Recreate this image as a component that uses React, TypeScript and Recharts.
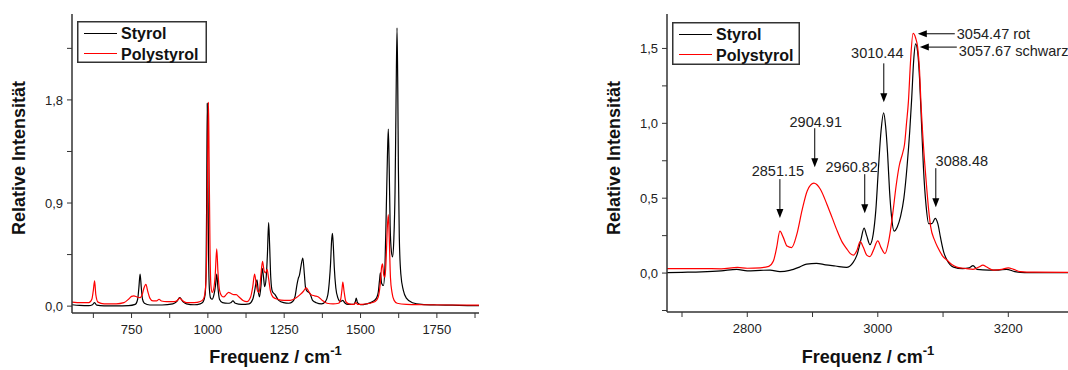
import React from "react";
import { LineChart, Line, XAxis, YAxis, Legend, ReferenceDot } from "recharts";

const FONT = "'Liberation Sans', Arial, sans-serif";
const FRAME = "#333";

// Fingerprint region, [Frequenz cm-1, relative Intensität]
const styrolFingerprint: [number, number][] = [
	[555, 0.012], [580, 0.006], [610, 0.004], [622, 0.012], [629, 0.03], [636, 0.008], [660, 0.003],
	[700, 0.002], [740, 0.004], [762, 0.015], [770, 0.06], [774, 0.16], [778, 0.28], [782, 0.16],
	[786, 0.06], [792, 0.025], [810, 0.01], [850, 0.01], [885, 0.02], [898, 0.04], [908, 0.075],
	[918, 0.04], [930, 0.02], [955, 0.012], [975, 0.02], [985, 0.04], [991, 0.1], [994, 0.3],
	[996, 0.9], [998, 1.77], [1000, 1.2], [1002, 0.5], [1005, 0.15], [1009, 0.07], [1014, 0.06],
	[1020, 0.1], [1025, 0.18], [1029, 0.28], [1033, 0.16], [1038, 0.06], [1048, 0.03], [1065, 0.025],
	[1075, 0.03], [1082, 0.045], [1090, 0.025], [1110, 0.015], [1135, 0.02], [1147, 0.06], [1153, 0.13],
	[1158, 0.21], [1161, 0.23], [1165, 0.13], [1169, 0.08], [1174, 0.18], [1178, 0.33], [1182, 0.26],
	[1186, 0.17], [1191, 0.25], [1195, 0.45], [1199, 0.73], [1202, 0.55], [1206, 0.25], [1211, 0.13],
	[1220, 0.1], [1232, 0.05], [1248, 0.03], [1265, 0.025], [1278, 0.04], [1286, 0.09], [1292, 0.19],
	[1296, 0.24], [1300, 0.27], [1305, 0.35], [1311, 0.42], [1316, 0.28], [1320, 0.16], [1325, 0.13],
	[1331, 0.12], [1336, 0.1], [1343, 0.05], [1355, 0.03], [1372, 0.02], [1385, 0.04], [1393, 0.1],
	[1398, 0.22], [1402, 0.38], [1405, 0.56], [1408, 0.635], [1411, 0.52], [1414, 0.34], [1419, 0.16],
	[1426, 0.07], [1434, 0.04], [1442, 0.05], [1448, 0.03], [1460, 0.015], [1478, 0.015], [1483, 0.04],
	[1486, 0.07], [1490, 0.03], [1500, 0.012], [1520, 0.02], [1540, 0.04], [1552, 0.07], [1558, 0.12],
	[1562, 0.22], [1565, 0.29], [1569, 0.2], [1575, 0.18], [1580, 0.35], [1584, 0.8], [1588, 1.3],
	[1591, 1.545], [1594, 1.2], [1597, 0.7], [1601, 0.48], [1605, 0.43], [1609, 0.58], [1613, 1.0],
	[1616, 1.7], [1619.5, 2.43], [1622, 1.9], [1624, 1.2], [1627, 0.6], [1632, 0.28], [1640, 0.14],
	[1650, 0.07], [1670, 0.03], [1700, 0.015], [1750, 0.01], [1800, 0.008], [1850, 0.005], [1888, 0.004],
];

const polystyrolFingerprint: [number, number][] = [
	[555, 0.035], [585, 0.03], [610, 0.03], [620, 0.06], [625, 0.14], [629, 0.22], [633, 0.1],
	[640, 0.035], [660, 0.02], [700, 0.02], [725, 0.03], [740, 0.06], [750, 0.085], [758, 0.09],
	[768, 0.08], [778, 0.075], [786, 0.11], [791, 0.16], [797, 0.19], [803, 0.13], [810, 0.07],
	[820, 0.045], [832, 0.045], [840, 0.06], [848, 0.045], [865, 0.04], [890, 0.04], [900, 0.05],
	[908, 0.07], [916, 0.05], [930, 0.03], [955, 0.03], [975, 0.04], [985, 0.06], [992, 0.15],
	[996, 0.45], [999, 1.2], [1002, 1.78], [1004, 1.3], [1007, 0.5], [1010, 0.18], [1014, 0.12],
	[1019, 0.15], [1024, 0.27], [1029, 0.5], [1033, 0.3], [1038, 0.14], [1045, 0.09], [1052, 0.08],
	[1060, 0.1], [1068, 0.12], [1076, 0.11], [1085, 0.1], [1093, 0.1], [1102, 0.08], [1115, 0.05],
	[1128, 0.04], [1140, 0.08], [1147, 0.17], [1153, 0.28], [1158, 0.2], [1163, 0.13], [1168, 0.12],
	[1173, 0.25], [1179, 0.39], [1184, 0.31], [1189, 0.29], [1194, 0.32], [1199, 0.24], [1205, 0.13],
	[1213, 0.08], [1228, 0.06], [1250, 0.05], [1270, 0.05], [1288, 0.07], [1302, 0.1], [1313, 0.13],
	[1322, 0.16], [1330, 0.13], [1338, 0.1], [1350, 0.09], [1362, 0.08], [1375, 0.05], [1390, 0.025],
	[1410, 0.02], [1428, 0.025], [1435, 0.06], [1439, 0.14], [1442, 0.21], [1446, 0.13], [1452, 0.04],
	[1462, 0.02], [1478, 0.015], [1485, 0.03], [1490, 0.015], [1505, 0.015], [1530, 0.025], [1548, 0.04],
	[1558, 0.08], [1564, 0.18], [1569, 0.34], [1572, 0.37], [1576, 0.27], [1580, 0.25], [1584, 0.42],
	[1588, 0.7], [1591, 0.8], [1594, 0.6], [1598, 0.25], [1603, 0.12], [1610, 0.05], [1620, 0.025],
	[1650, 0.015], [1700, 0.012], [1800, 0.01], [1888, 0.008],
];

// C-H stretching region
const styrolCH: [number, number][] = [
	[2677, 0.003], [2700, 0.005], [2730, 0.008], [2760, 0.015], [2784, 0.025], [2800, 0.015],
	[2820, 0.018], [2835, 0.02], [2850, 0.01], [2865, 0.018], [2880, 0.04], [2891, 0.06], [2906, 0.065],
	[2920, 0.055], [2935, 0.047], [2952, 0.038], [2962, 0.07], [2968, 0.12], [2974, 0.22], [2979, 0.3],
	[2983, 0.25], [2988, 0.19], [2993, 0.26], [2997, 0.42], [3001, 0.7], [3005, 0.95], [3009, 1.07],
	[3012, 0.98], [3015, 0.8], [3018, 0.55], [3021, 0.38], [3025, 0.28], [3030, 0.31], [3035, 0.38],
	[3040, 0.5], [3045, 0.72], [3049, 0.95], [3052, 1.17], [3055, 1.42], [3058, 1.53], [3061, 1.48],
	[3064, 1.3], [3067, 1.0], [3070, 0.7], [3074, 0.45], [3078, 0.33], [3083, 0.33], [3088, 0.365],
	[3092, 0.33], [3096, 0.24], [3101, 0.14], [3106, 0.087], [3116, 0.04], [3130, 0.03], [3140, 0.035],
	[3146, 0.05], [3152, 0.025], [3170, 0.02], [3185, 0.02], [3197, 0.025], [3210, 0.01], [3225, 0.003],
	[3260, 0.002], [3293, 0.002],
];

const polystyrolCH: [number, number][] = [
	[2677, 0.03], [2700, 0.03], [2730, 0.03], [2760, 0.028], [2785, 0.038], [2800, 0.032], [2820, 0.035],
	[2833, 0.045], [2840, 0.08], [2845, 0.17], [2850, 0.28], [2855, 0.24], [2861, 0.18], [2868, 0.17],
	[2876, 0.26], [2884, 0.42], [2892, 0.55], [2902, 0.6], [2912, 0.56], [2922, 0.46], [2930, 0.37],
	[2937, 0.29], [2945, 0.21], [2952, 0.165], [2958, 0.13], [2963, 0.12], [2968, 0.15], [2973, 0.21],
	[2978, 0.17], [2983, 0.12], [2988, 0.11], [2993, 0.15], [3000, 0.215], [3005, 0.17], [3011, 0.13],
	[3017, 0.22], [3023, 0.4], [3028, 0.58], [3033, 0.72], [3038, 0.8], [3041, 0.86], [3044, 1.0],
	[3047, 1.15], [3050, 1.4], [3054, 1.6], [3058, 1.57], [3061, 1.51], [3064, 1.35], [3066, 1.15],
	[3070, 0.85], [3074, 0.62], [3078, 0.42], [3081, 0.31], [3087, 0.22], [3092, 0.17], [3100, 0.11],
	[3106, 0.087], [3114, 0.055], [3121, 0.04], [3136, 0.03], [3146, 0.025], [3155, 0.04], [3161, 0.053],
	[3167, 0.04], [3177, 0.02], [3190, 0.025], [3200, 0.035], [3208, 0.025], [3218, 0.01], [3240, 0.006],
	[3293, 0.005],
];

const seriesNames = ["Styrol", "Polystyrol"];

const fingerprintXTicks = [625, 750, 875, 1000, 1125, 1250, 1375, 1500, 1625, 1750, 1875];
const fingerprintXLabels = [750, 1000, 1250, 1500, 1750];
const fingerprintYTicks = [0, 0.45, 0.9, 1.35, 1.8, 2.25];
const fingerprintYLabels = [0, 0.9, 1.8];

const chXTicks = [2700, 2800, 2900, 3000, 3100, 3200];
const chXLabels = [2800, 3000, 3200];
const chYTicks = [-0.25, 0, 0.25, 0.5, 0.75, 1, 1.25, 1.5];
const chYLabels = [0, 0.5, 1, 1.5];

// peak labels: tip at (f, i); tx/ty = text offset from tip in px
const peakNotes = [
	{ text: "2851.15", f: 2850, i: 0.367, dir: "down", tx: -2, ty: -42 },
	{ text: "2904.91", f: 2903.4, i: 0.707, dir: "down", tx: 1, ty: -40 },
	{ text: "2960.82", f: 2980, i: 0.4, dir: "down", tx: -13, ty: -41 },
	{ text: "3010.44", f: 3009.2, i: 1.14, dir: "down", tx: -6.5, ty: -44 },
	{ text: "3088.48", f: 3088.9, i: 0.44, dir: "down", tx: 26, ty: -41 },
	{ text: "3054.47 rot", f: 3061.3, i: 1.598, dir: "left", tx: 39, ty: 5 },
	{ text: "3057.67 schwarz", f: 3064.4, i: 1.509, dir: "left", tx: 39, ty: 8.5 },
];

const toPoints = (arr: [number, number][]) => arr.map(([f, i]) => ({ f, i }));

const commaFmt = (labels: number[]) => (v: number) =>
	labels.includes(v) ? v.toFixed(1).replace(".", ",") : "";
const plainFmt = (labels: number[]) => (v: number) => (labels.includes(v) ? String(v) : "");

const tickStyle = { fontSize: 13, fill: "#222", fontFamily: FONT };

function YTitle({ px }: { px: number }) {
	return (
		<text
			x={px}
			y={158}
			transform={`rotate(-90 ${px} 158)`}
			textAnchor="middle"
			fontSize={18}
			fontWeight="bold"
			fontFamily={FONT}
			fill="#111"
		>
			Relative Intensität
		</text>
	);
}

function XTitle({ viewBox }: any) {
	const cx = viewBox ? viewBox.x + viewBox.width / 2 : 0;
	return (
		<text x={cx} y={363} textAnchor="middle" fontSize={18} fontWeight="bold" fontFamily={FONT} fill="#111">
			Frequenz / cm
			<tspan fontSize={13} dy={-8}>
				-1
			</tspan>
		</text>
	);
}

function LegendBox({ payload, w, h }: any) {
	const items = [...(payload || [])].sort(
		(a: any, b: any) => seriesNames.indexOf(a.value) - seriesNames.indexOf(b.value)
	);
	return (
		<svg width={w} height={h} style={{ display: "block" }}>
			<rect x={0.75} y={0.75} width={w - 1.5} height={h - 1.5} fill="#fff" stroke={FRAME} strokeWidth={1.5} />
			{items.map((p: any, k: number) => (
				<g key={p.value}>
					<line x1={7} x2={40} y1={12.5 + k * 20} y2={12.5 + k * 20} stroke={p.color} strokeWidth={1.2} />
					<text x={44} y={17.5 + k * 21.5} fontSize={16} fontWeight="bold" fontFamily={FONT} fill="#111">
						{p.value}
					</text>
				</g>
			))}
		</svg>
	);
}

const noteShape = (note: (typeof peakNotes)[number]) => (props: any) => {
	const { cx, cy } = props;
	if (note.dir === "down") {
		return (
			<g>
				<line x1={cx} y1={cy - 39} x2={cx} y2={cy - 8} stroke="#000" strokeWidth={1} />
				<path d={`M${cx - 3.5},${cy - 9} L${cx + 3.5},${cy - 9} L${cx},${cy} Z`} fill="#000" />
				<text x={cx + note.tx} y={cy + note.ty} textAnchor="middle" fontSize={14.5} fontFamily={FONT} fill="#222">
					{note.text}
				</text>
			</g>
		);
	}
	return (
		<g>
			<line x1={cx + 8} y1={cy} x2={cx + 37} y2={cy} stroke="#000" strokeWidth={1} />
			<path d={`M${cx + 9},${cy - 3.5} L${cx + 9},${cy + 3.5} L${cx},${cy} Z`} fill="#000" />
			<text x={cx + note.tx} y={cy + note.ty} fontSize={14.5} fontFamily={FONT} fill="#222">
				{note.text}
			</text>
		</g>
	);
};

type PanelProps = {
	styrol: [number, number][];
	polystyrol: [number, number][];
	xDomain: [number, number];
	yDomain: [number, number];
	xTicks: number[];
	xLabels: number[];
	yTicks: number[];
	yLabels: number[];
	margin: { top: number; right: number; bottom: number; left: number };
	legendAt: { left: number; top: number; w: number; h: number };
	yTitleX: number;
	rightAxis: boolean;
	notes?: typeof peakNotes;
};

function SpectrumPanel(p: PanelProps) {
	const axisLine = { stroke: FRAME, strokeWidth: 1.5 };
	const tickLine = { stroke: FRAME, strokeWidth: 1 };
	return (
		<LineChart width={540} height={370} margin={p.margin}>
			<XAxis
				xAxisId={0}
				type="number"
				dataKey="f"
				domain={p.xDomain}
				allowDataOverflow
				ticks={p.xTicks}
				tickFormatter={plainFmt(p.xLabels)}
				tick={tickStyle}
				tickSize={5}
				tickMargin={7}
				height={30}
				axisLine={axisLine}
				tickLine={tickLine}
				interval={0}
				label={<XTitle />}
			/>
			<XAxis
				xAxisId="top"
				orientation="top"
				type="number"
				domain={p.xDomain}
				allowDataOverflow
				ticks={p.xTicks}
				tick={false}
				tickSize={4}
				mirror
				height={0}
				axisLine={axisLine}
				tickLine={tickLine}
				interval={0}
			/>
			<YAxis
				yAxisId={0}
				type="number"
				domain={p.yDomain}
				allowDataOverflow
				ticks={p.yTicks}
				tickFormatter={commaFmt(p.yLabels)}
				tick={tickStyle}
				tickSize={5}
				tickMargin={4}
				width={60}
				axisLine={axisLine}
				tickLine={tickLine}
				interval={0}
				label={<YTitle px={p.yTitleX} />}
			/>
			{p.rightAxis && (
				<YAxis
					yAxisId="right"
					orientation="right"
					type="number"
					domain={p.yDomain}
					allowDataOverflow
					ticks={p.yTicks}
					tick={false}
					tickSize={4}
					mirror
					width={0}
					axisLine={axisLine}
					tickLine={tickLine}
					interval={0}
				/>
			)}
			<Line
				name="Styrol"
				data={toPoints(p.styrol)}
				dataKey="i"
				type="monotone"
				stroke="#000"
				strokeWidth={1.2}
				dot={false}
				isAnimationActive={false}
			/>
			<Line
				name="Polystyrol"
				data={toPoints(p.polystyrol)}
				dataKey="i"
				type="monotone"
				stroke="#ff0000"
				strokeWidth={1.2}
				dot={false}
				isAnimationActive={false}
			/>
			{(p.notes || []).map(n => (
				<ReferenceDot key={n.text} x={n.f} y={n.i} r={0} ifOverflow="visible" shape={noteShape(n)} />
			))}
			<Legend
				layout="horizontal"
				verticalAlign="middle"
				align="center"
				wrapperStyle={{
					position: "absolute",
					left: p.legendAt.left,
					top: p.legendAt.top,
					width: p.legendAt.w,
					height: p.legendAt.h,
				}}
				content={(lp: any) => <LegendBox payload={lp.payload} w={p.legendAt.w} h={p.legendAt.h} />}
			/>
		</LineChart>
	);
}

export default function App() {
	return (
		<div
			style={{
				position: "absolute",
				left: 0,
				top: 0,
				width: 1068,
				height: 370,
				overflow: "hidden",
				background: "#fff",
			}}
		>
			<div style={{ position: "absolute", left: 0, top: 0 }}>
				<SpectrumPanel
					styrol={styrolFingerprint}
					polystyrol={polystyrolFingerprint}
					xDomain={[555, 1888]}
					yDomain={[-0.06, 2.55]}
					xTicks={fingerprintXTicks}
					xLabels={fingerprintXLabels}
					yTicks={fingerprintYTicks}
					yLabels={fingerprintYLabels}
					margin={{ top: 14, right: 61, bottom: 27, left: 12 }}
					legendAt={{ left: 77, top: 21, w: 130, h: 42 }}
					yTitleX={25}
					rightAxis
				/>
			</div>
			<div style={{ position: "absolute", left: 540, top: 0 }}>
				<SpectrumPanel
					styrol={styrolCH}
					polystyrol={polystyrolCH}
					xDomain={[2677, 3293]}
					yDomain={[-0.26, 1.73]}
					xTicks={chXTicks}
					xLabels={chXLabels}
					yTicks={chYTicks}
					yLabels={chYLabels}
					margin={{ top: 14, right: 11, bottom: 28, left: 67 }}
					legendAt={{ left: 132, top: 22, w: 128, h: 43 }}
					yTitleX={80}
					rightAxis={false}
					notes={peakNotes}
				/>
			</div>
		</div>
	);
}
